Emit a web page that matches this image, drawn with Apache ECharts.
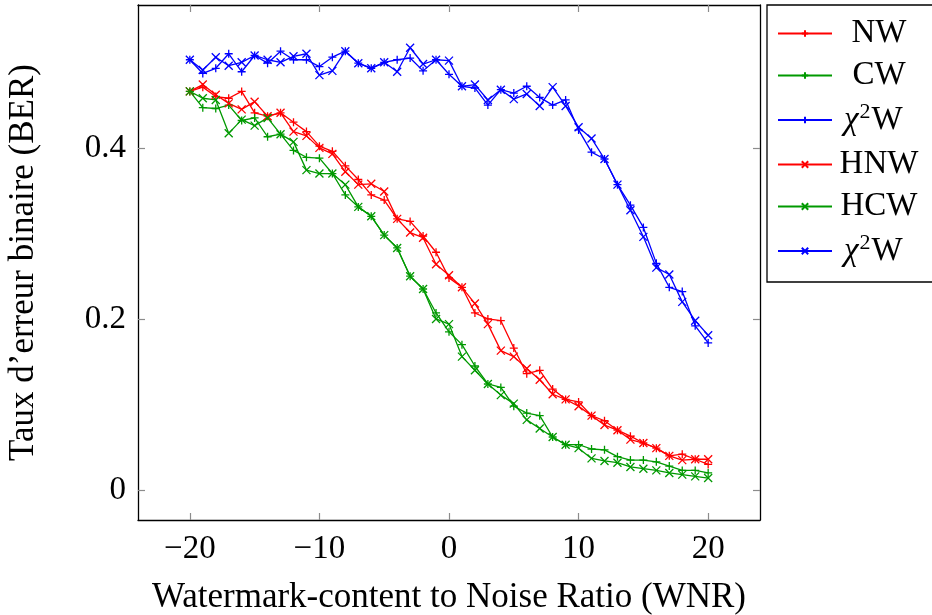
<!DOCTYPE html>
<html>
<head>
<meta charset="utf-8">
<script src="https://cdn.jsdelivr.net/npm/echarts@6/dist/echarts.min.js"></script>
<style>
html,body{margin:0;padding:0;background:#fff;}
#chart{width:932px;height:615px;}
</style>
</head>
<body>
<div id="chart"></div>
<script>
// ---- data ----
const wnr = [-20,-19,-18,-17,-16,-15,-14,-13,-12,-11,-10,-9,-8,-7,-6,-5,-4,-3,-2,-1,0,1,2,3,4,5,6,7,8,9,10,11,12,13,14,15,16,17,18,19,20];
const NW  = [0.466,0.471,0.460,0.458,0.466,0.441,0.437,0.441,0.430,0.419,0.402,0.396,0.379,0.363,0.345,0.339,0.317,0.314,0.297,0.278,0.248,0.237,0.207,0.200,0.198,0.166,0.136,0.140,0.118,0.106,0.103,0.087,0.081,0.070,0.063,0.055,0.049,0.040,0.042,0.036,0.030];
const CW  = [0.466,0.447,0.446,0.450,0.432,0.435,0.413,0.416,0.397,0.389,0.388,0.370,0.345,0.331,0.320,0.298,0.283,0.250,0.235,0.207,0.185,0.170,0.145,0.124,0.120,0.098,0.090,0.087,0.062,0.053,0.053,0.048,0.047,0.039,0.035,0.035,0.033,0.028,0.023,0.023,0.020];
const X2W = [0.503,0.487,0.493,0.510,0.489,0.508,0.499,0.513,0.503,0.503,0.495,0.506,0.513,0.499,0.493,0.500,0.503,0.505,0.490,0.503,0.486,0.472,0.470,0.450,0.468,0.464,0.472,0.459,0.450,0.456,0.421,0.395,0.387,0.357,0.333,0.307,0.265,0.237,0.232,0.192,0.172];
const HNW = [0.466,0.474,0.462,0.452,0.445,0.454,0.437,0.441,0.419,0.414,0.400,0.393,0.372,0.357,0.358,0.349,0.317,0.301,0.295,0.264,0.251,0.237,0.218,0.194,0.163,0.156,0.142,0.129,0.112,0.106,0.098,0.087,0.076,0.070,0.059,0.055,0.049,0.040,0.035,0.036,0.036];
const HCW = [0.466,0.458,0.456,0.417,0.433,0.426,0.435,0.416,0.407,0.374,0.370,0.370,0.357,0.331,0.320,0.298,0.283,0.250,0.235,0.200,0.194,0.156,0.140,0.124,0.111,0.101,0.082,0.072,0.062,0.053,0.049,0.037,0.034,0.032,0.027,0.025,0.023,0.020,0.018,0.016,0.014];
const HX2W= [0.503,0.491,0.506,0.496,0.500,0.508,0.503,0.500,0.507,0.510,0.485,0.490,0.513,0.499,0.493,0.500,0.489,0.517,0.498,0.503,0.502,0.472,0.474,0.456,0.468,0.457,0.463,0.449,0.471,0.449,0.424,0.411,0.387,0.357,0.327,0.296,0.260,0.252,0.220,0.198,0.181];
const xTicks = [-20,-10,0,10,20];
const yTicks = [0,0.2,0.4];
const xTitle = 'Watermark-content to Noise Ratio (WNR)';
const yTitle = 'Taux d\u2019erreur binaire (BER)';

const FONT = 'Liberation Serif';
const PLUS = 'path://M0,5L10,5M5,0L5,10';
const CROSS = 'path://M0,0L10,10M10,0L0,10';

function pairs(ys){ return wnr.map((x,i)=>[x, ys[i]]); }

const seriesDefs = [
  {id:'NW',  data:NW,  color:'#ff0000', sym:PLUS,  label:'{n|NW}'},
  {id:'CW',  data:CW,  color:'#009900', sym:PLUS,  label:'{n|CW}'},
  {id:'X2W', data:X2W, color:'#0000ff', sym:PLUS,  label:'{p|}{ci|\u03c7}{sup|2}{w|W}'},
  {id:'HNW', data:HNW, color:'#ff0000', sym:CROSS, label:'{n|HNW}'},
  {id:'HCW', data:HCW, color:'#009900', sym:CROSS, label:'{n|HCW}'},
  {id:'HX2W',data:HX2W,color:'#0000ff', sym:CROSS, label:'{p|}{ci|\u03c7}{sup|2}{w|W}'}
];
const labelMap = {};
seriesDefs.forEach(s=>labelMap[s.id]=s.label);

const chart = echarts.init(document.getElementById('chart'), null, {renderer:'canvas'});
const minus = v => v < 0 ? '\u2212' + Math.abs(v) : String(v);

const axisCommon = {
  axisLine:{show:true, onZero:false, lineStyle:{color:'#000', width:1.3}},
  axisTick:{show:true, inside:true, length:7, lineStyle:{color:'#8c8c8c', width:1.2}},
  splitLine:{show:false}
};

chart.setOption({
  animation:false,
  backgroundColor:'#fff',
  grid:{left:138, top:5, width:622, height:515, containLabel:false, outerBoundsMode:'none'},
  xAxis:[
    Object.assign({}, axisCommon, {
      type:'value', min:-24, max:24, position:'bottom',
      axisTick:Object.assign({}, axisCommon.axisTick, {customValues:xTicks}),
      axisLabel:{customValues:xTicks, formatter:minus, fontFamily:FONT, fontSize:33, color:'#000', margin:13},
      name:xTitle, nameLocation:'middle', nameGap:60,
      nameTextStyle:{fontFamily:FONT, fontSize:35, color:'#000'}
    }),
    Object.assign({}, axisCommon, {
      type:'value', min:-24, max:24, position:'top',
      axisTick:Object.assign({}, axisCommon.axisTick, {customValues:xTicks}),
      axisLabel:{show:false}
    })
  ],
  yAxis:[
    Object.assign({}, axisCommon, {
      type:'value', min:-0.035, max:0.567, position:'left',
      axisTick:Object.assign({}, axisCommon.axisTick, {customValues:yTicks}),
      axisLabel:{customValues:yTicks, formatter:v=> v===0 ? '0' : v.toFixed(1), fontFamily:FONT, fontSize:33, color:'#000', margin:12},
      name:yTitle, nameLocation:'middle', nameGap:97, nameRotate:90,
      nameTextStyle:{fontFamily:FONT, fontSize:35, color:'#000'}
    }),
    Object.assign({}, axisCommon, {
      type:'value', min:-0.035, max:0.567, position:'right',
      axisTick:Object.assign({}, axisCommon.axisTick, {customValues:yTicks}),
      axisLabel:{show:false}
    })
  ],
  legend:{
    orient:'vertical', left:767, top:5,
    padding:[12,12,12,10],
    itemWidth:54, itemHeight:8, itemGap:9,
    borderColor:'#000', borderWidth:1.3,
    data:seriesDefs.map(s=>s.id),
    formatter:name=>labelMap[name],
    textStyle:{
      fontFamily:FONT, fontSize:33, color:'#000', lineHeight:30,
      rich:{
        n:{fontFamily:FONT, fontSize:33, width:84, align:'center', lineHeight:30},
        p:{width:7, lineHeight:30},
        ci:{fontFamily:FONT, fontStyle:'italic', fontSize:33, lineHeight:30},
        sup:{fontFamily:FONT, fontSize:22, lineHeight:14, padding:[0,1,16,1]},
        w:{fontFamily:FONT, fontSize:33, lineHeight:30}
      }
    }
  },
  series:seriesDefs.map(s=>({
    id:s.id, name:s.id, type:'line',
    data:pairs(s.data),
    symbol:s.sym, symbolSize:8,
    lineStyle:{color:s.color, width:1.3},
    itemStyle:{color:s.color, borderColor:s.color, borderWidth:1.3},
    emphasis:{disabled:true}
  }))
});
</script>
</body>
</html>
